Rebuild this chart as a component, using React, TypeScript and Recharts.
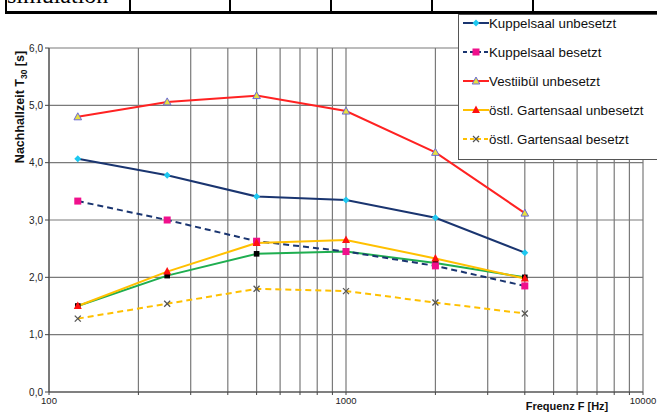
import React from 'react';
import { LineChart, Line, XAxis, YAxis, CartesianGrid, Label } from 'recharts';

const frequencies = [125, 250, 500, 1000, 2000, 4000];
const kuppelUnbesetzt = [4.07, 3.78, 3.41, 3.35, 3.04, 2.43];
const kuppelBesetzt = [3.33, 3.0, 2.63, 2.45, 2.2, 1.85];
const vestibuelUnbesetzt = [4.8, 5.06, 5.17, 4.9, 4.18, 3.12];
const gartenUnbesetzt = [1.5, 2.1, 2.6, 2.65, 2.33, 1.98];
const gartenBesetzt = [1.28, 1.54, 1.8, 1.76, 1.56, 1.37];
const weitere = [1.5, 2.03, 2.41, 2.45, 2.25, 2.0];

const xTicks = [100, 200, 300, 400, 500, 600, 700, 800, 900, 1000, 2000, 3000, 4000, 5000, 6000, 7000, 8000, 9000, 10000];
const yTicks = [0, 1, 2, 3, 4, 5, 6];
const tableCols = [5, 129, 229, 330, 431, 532];

const data = frequencies.map((f, i) => ({
  f,
  ku: kuppelUnbesetzt[i],
  kb: kuppelBesetzt[i],
  vu: vestibuelUnbesetzt[i],
  gu: gartenUnbesetzt[i],
  gb: gartenBesetzt[i],
  w: weitere[i],
}));

type Mark = 'diamond' | 'square' | 'triOutline' | 'triRed' | 'cross' | 'blackSquare';

function marker(kind: Mark, cx: number, cy: number, key?: string) {
  switch (kind) {
    case 'diamond':
      return <path key={key} d={`M${cx},${cy - 3.5}L${cx + 3.5},${cy}L${cx},${cy + 3.5}L${cx - 3.5},${cy}Z`} fill="#1ec8f0" />;
    case 'square':
      return <rect key={key} x={cx - 3.5} y={cy - 3.5} width={7} height={7} fill="#f0108c" />;
    case 'triOutline':
      return <path key={key} d={`M${cx},${cy - 4}L${cx + 3.8},${cy + 3}L${cx - 3.8},${cy + 3}Z`} fill="#e8e040" stroke="#6a6ad8" strokeWidth={1} />;
    case 'triRed':
      return <path key={key} d={`M${cx},${cy - 4.5}L${cx + 4},${cy + 3}L${cx - 4},${cy + 3}Z`} fill="#ff1010" />;
    case 'cross':
      return (
        <g key={key} stroke="#555" strokeWidth={1.3}>
          <line x1={cx - 3} y1={cy - 3} x2={cx + 3} y2={cy + 3} />
          <line x1={cx - 3} y1={cy + 3} x2={cx + 3} y2={cy - 3} />
        </g>
      );
    default:
      return <rect key={key} x={cx - 2.8} y={cy - 2.8} width={5.6} height={5.6} fill="#000" />;
  }
}

const series = [
  { key: 'ku', name: 'Kuppelsaal unbesetzt', color: '#1a3570', dash: undefined, mark: 'diamond' as Mark },
  { key: 'kb', name: 'Kuppelsaal besetzt', color: '#1a3570', dash: '6 4', mark: 'square' as Mark },
  { key: 'vu', name: 'Vestiibül unbesetzt', color: '#ff2222', dash: undefined, mark: 'triOutline' as Mark },
  { key: 'gu', name: 'östl. Gartensaal unbesetzt', color: '#ffc000', dash: undefined, mark: 'triRed' as Mark },
  { key: 'gb', name: 'östl. Gartensaal besetzt', color: '#ffc000', dash: '6 4', mark: 'cross' as Mark },
];

const LegendBox = () => (
  <div
    style={{
      position: 'absolute',
      left: 458,
      top: 14,
      width: 220,
      height: 146,
      background: '#fff',
      border: '1px solid #555',
      fontFamily: 'Liberation Sans, Arial, sans-serif',
      fontSize: 13.3,
      color: '#111',
      boxSizing: 'border-box',
    }}
  >
    {series.map((s, i) => (
      <div key={s.key} style={{ position: 'absolute', left: 4, top: i * 29, height: 16, display: 'flex', alignItems: 'center' }}>
        <svg width={26} height={12}>
          <line x1={0} y1={6} x2={26} y2={6} stroke={s.color} strokeWidth={2} strokeDasharray={s.dash ? '4 3' : undefined} />
          {marker(s.mark, 13, 6)}
        </svg>
        <span style={{ marginLeft: 0, whiteSpace: 'nowrap' }}>{s.name}</span>
      </div>
    ))}
  </div>
);

const YTitle = () => (
  <text
    transform="translate(24,107) rotate(-90)"
    textAnchor="middle"
    fontFamily="Liberation Sans, Arial, sans-serif"
    fontWeight="bold"
    fontSize={12.5}
    fill="#111"
  >
    Nachhallzeit T
    <tspan fontSize={8.5} dy={3}>30</tspan>
    <tspan dy={-3}> [s]</tspan>
  </text>
);

const XTitle = () => (
  <text x={567} y={410} textAnchor="middle" fontFamily="Liberation Sans, Arial, sans-serif" fontWeight="bold" fontSize={11} fill="#111">
    Frequenz F [Hz]
  </text>
);

export default function App() {
  return (
    <div style={{ position: 'absolute', left: 0, top: 0, width: 657, height: 412, background: '#fff', overflow: 'hidden' }}>
      <div style={{ position: 'absolute', left: 0, top: 0, width: 657, height: 15, overflow: 'hidden' }}>
        <div style={{ position: 'absolute', left: 7, top: -20, fontFamily: 'Liberation Serif, Times New Roman, serif', fontSize: 24, lineHeight: '30px', color: '#000' }}>
          simulation
        </div>
        {tableCols.map((c) => (
          <div key={c} style={{ position: 'absolute', left: c, top: 0, width: 1.5, height: 14, background: '#000' }} />
        ))}
        <div style={{ position: 'absolute', left: 5, top: 11, width: 660, height: 2.5, background: '#000' }} />
      </div>
      <LineChart width={657} height={412} data={data} margin={{ top: 48, right: 14, bottom: 0, left: 0 }}>
        <CartesianGrid stroke="#7a7a7a" strokeWidth={1.2} />
        <XAxis
          dataKey="f"
          type="number"
          scale="log"
          domain={[100, 10000]}
          ticks={xTicks}
          interval={0}
          height={20}
          stroke="#444"
          tickSize={3}
          tick={{ fontSize: 9.5, fill: '#222', fontFamily: 'Liberation Sans, Arial, sans-serif' }}
          tickFormatter={(v: number) => ([100, 1000, 10000].includes(v) ? String(v) : '')}
          allowDataOverflow
        >
          <Label content={<XTitle />} />
        </XAxis>
        <YAxis
          type="number"
          domain={[0, 6]}
          ticks={yTicks}
          width={49}
          stroke="#444"
          tickSize={4}
          tick={{ fontSize: 10, fill: '#222', fontFamily: 'Liberation Sans, Arial, sans-serif' }}
          tickFormatter={(v: number) => v.toFixed(1).replace('.', ',')}
        >
          <Label content={<YTitle />} />
        </YAxis>
        <Line
          dataKey="w"
          name="weitere Messung"
          stroke="#1fae50"
          strokeWidth={2}
          legendType="none"
          isAnimationActive={false}
          dot={(p: any) => marker('blackSquare', p.cx, p.cy, `w${p.index}`)}
        />
        {series.map((s) => (
          <Line
            key={s.key}
            dataKey={s.key}
            name={s.name}
            stroke={s.color}
            strokeWidth={2}
            strokeDasharray={s.dash}
            isAnimationActive={false}
            dot={(p: any) => marker(s.mark, p.cx, p.cy, `${s.key}${p.index}`)}
          />
        ))}
      </LineChart>
      <LegendBox />
    </div>
  );
}
